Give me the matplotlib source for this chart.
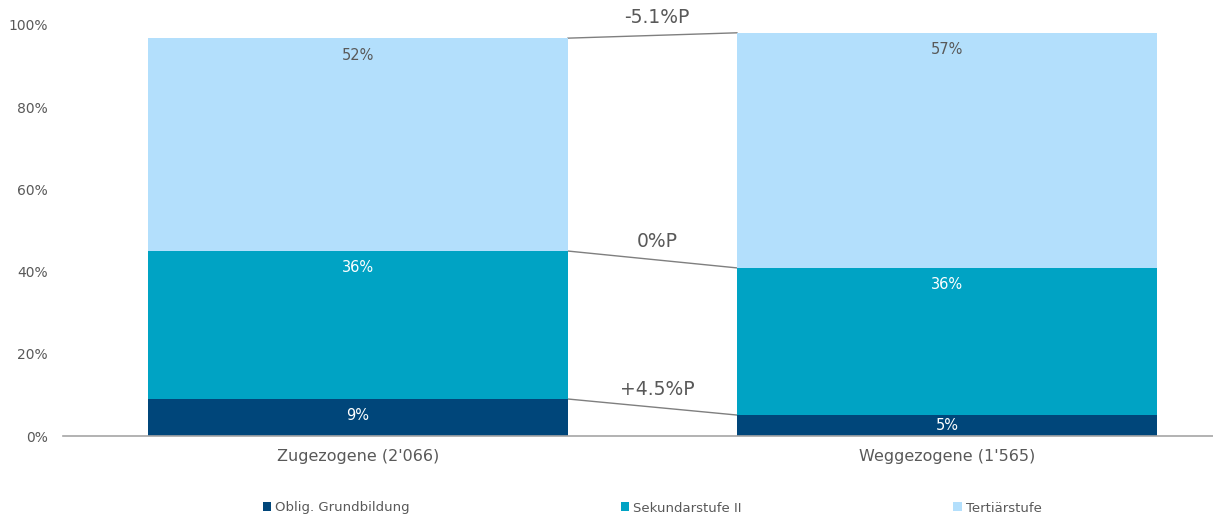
import matplotlib
matplotlib.use("Agg")
import matplotlib.pyplot as plt
from matplotlib.patches import Patch

# ---- data ----
categories = ["Zugezogene (2'066)", "Weggezogene (1'565)"]
series_names = ["Oblig. Grundbildung", "Sekundarstufe II", "Tertiärstufe"]
zugezogene = [9.0, 36.0, 51.8]
weggezogene = [5.1, 35.8, 57.2]
change_labels = ["+4.5%P", "0%P", "-5.1%P"]
yticks = [0, 20, 40, 60, 80, 100]

colors = ["#00467A", "#00A3C4", "#B3DFFC"]
label_colors = ["white", "white", "#595959"]
text_gray = "#595959"

plt.rcParams['font.family'] = ['DejaVu Sans']

fig = plt.figure(figsize=(12.13, 5.2), dpi=100)
ax = fig.add_axes([63/1213, 84/520, 1150/1213, 411/520])

values = [zugezogene, weggezogene]
width = 0.713
x = [0, 1]

tops_per_bar = []
for i, vals in enumerate(values):
    bottom = 0
    tops = []
    for j, v in enumerate(vals):
        ax.bar(x[i], v, width=width, bottom=bottom, color=colors[j],
               edgecolor="none", zorder=2)
        top = bottom + v
        ypos = max(top - 4.1, bottom + v / 2)
        ax.text(x[i], ypos, f"{round(v):.0f}%", ha="center", va="center",
                fontsize=10.5, color=label_colors[j], zorder=3)
        tops.append(top)
        bottom = top
    tops_per_bar.append(tops)

# connecting lines and change labels
for j in range(3):
    y0 = tops_per_bar[0][j]
    y1 = tops_per_bar[1][j]
    x0 = x[0] + width / 2
    x1 = x[1] - width / 2
    ax.plot([x0, x1], [y0, y1], color="#7F7F7F", lw=1.0, zorder=1)
    ax.text((x0 + x1) / 2 + 0.008, (y0 + y1) / 2 + 4.3, change_labels[j],
            ha="center", va="center", fontsize=13.5, color=text_gray)

ax.set_xlim(-0.501, 1.452)
ax.set_ylim(0, 100)
ax.set_yticks(yticks)
ax.set_yticklabels([f"{t}%" for t in yticks])
ax.set_xticks(x)
ax.set_xticklabels(categories)
ax.tick_params(axis="y", length=0, labelsize=10, labelcolor=text_gray, pad=11)
ax.tick_params(axis="x", length=0, labelsize=11.5, labelcolor=text_gray, pad=9)
for s in ["top", "right", "left"]:
    ax.spines[s].set_visible(False)
ax.spines["bottom"].set_color("#A6A6A6")
ax.spines["bottom"].set_linewidth(1.2)

handles = [Patch(facecolor=c, edgecolor="none") for c in colors]
fig.legend(handles, series_names, loc="center", ncol=3,
           bbox_to_anchor=(652/1213, 1 - 508/520), frameon=False,
           fontsize=9.5, labelcolor=text_gray, handlelength=0.65,
           handleheight=0.65, handletextpad=0.3, columnspacing=16.0)

fig.savefig("out.png", dpi=100)
